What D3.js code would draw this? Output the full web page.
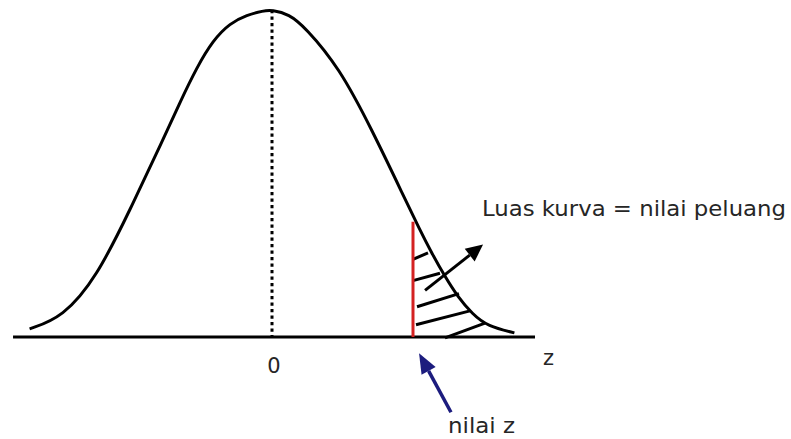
<!DOCTYPE html>
<html><head><meta charset="utf-8">
<script src="https://cdn.jsdelivr.net/npm/d3@7"></script>
<style>html,body{margin:0;padding:0;background:#fff;overflow:hidden}svg{display:block}</style>
</head><body>
<svg id="c" width="791" height="439"></svg>
<script>
// ---- data ----
const curveZ = [-3.0, -2.59, -2.17, -1.76, -1.35, -1.14, -0.93, -0.73, -0.52, -0.31, -0.11, 0,
                0.21, 0.41, 0.83, 1.24, 1.65, 1.81, 1.98, 2.14, 2.30, 2.48, 2.67, 3.0];
const curveD = [0.010, 0.024, 0.073, 0.155, 0.241, 0.287, 0.330, 0.363, 0.384, 0.394, 0.399, 0.400,
                0.395, 0.379, 0.330, 0.253, 0.168, 0.135, 0.102, 0.074, 0.049, 0.028, 0.013, 0.005];
const zCrit = 1.745;
const zCritTop = 0.141;
const hatchZ0 = [1.745, 1.745, 1.795, 1.782, 2.141];
const hatchD0 = [0.095, 0.069, 0.037, 0.015, -0.001];
const hatchZ1 = [1.931, 2.079, 2.314, 2.450, 2.636];
const hatchD1 = [0.103, 0.078, 0.053, 0.032, 0.017];
const tickLabels = ["0"];
const tickValues = [0];
const axisLabel = "z";
const areaLabel = "Luas kurva = nilai peluang";
const zLabel = "nilai z";

// ---- layout ----
const svg = d3.select("#c");
const x = d3.scaleLinear().domain([-3, 3]).range([29.6, 514.4]);
const y = d3.scaleLinear().domain([0, 0.4]).range([337, 10]);
const font = "DejaVu Sans, Verdana, sans-serif";
const textCol = "#262626";

// baseline
svg.append("line").attr("x1", x(-3.205)).attr("x2", x(3.255))
  .attr("y1", y(0)).attr("y2", y(0)).attr("stroke", "#000").attr("stroke-width", 3);

// dotted centre line
svg.append("line").attr("x1", x(0)).attr("x2", x(0)).attr("y1", y(0.4)).attr("y2", y(0))
  .attr("stroke", "#000").attr("stroke-width", 3).attr("stroke-dasharray", "3.3,3.2");

// curve
const pts = curveZ.map((z, i) => [z, curveD[i]]);
svg.append("path").datum(pts)
  .attr("d", d3.line().x(d => x(d[0])).y(d => y(d[1])).curve(d3.curveBasis))
  .attr("fill", "none").attr("stroke", "#000").attr("stroke-width", 3);

// hatch
svg.selectAll("line.hatch").data(hatchZ0.map((z, i) => i)).join("line")
  .attr("class", "hatch")
  .attr("x1", i => x(hatchZ0[i])).attr("y1", i => y(hatchD0[i]))
  .attr("x2", i => x(hatchZ1[i])).attr("y2", i => y(hatchD1[i]))
  .attr("stroke", "#000").attr("stroke-width", 3);

// red critical line
svg.append("line").attr("x1", x(zCrit)).attr("x2", x(zCrit))
  .attr("y1", y(zCritTop)).attr("y2", y(0))
  .attr("stroke", "#d42222").attr("stroke-width", 3);

// arrows
function arrow(z0, d0, z1, d1, col, w, hl, hw) {
  const X0 = x(z0), Y0 = y(d0), X1 = x(z1), Y1 = y(d1);
  const a = Math.atan2(Y1 - Y0, X1 - X0);
  const bx = X1 - hl * Math.cos(a), by = Y1 - hl * Math.sin(a);
  svg.append("line").attr("x1", X0).attr("y1", Y0).attr("x2", bx).attr("y2", by)
    .attr("stroke", col).attr("stroke-width", w);
  const px = -Math.sin(a) * hw / 2, py = Math.cos(a) * hw / 2;
  svg.append("path").attr("d", `M${X1},${Y1}L${bx + px},${by + py}L${bx - px},${by - py}Z`)
    .attr("fill", col);
}
arrow(1.894, 0.057, 2.612, 0.113, "#000", 3, 17, 16);
arrow(2.215, -0.092, 1.82, -0.020, "#1c1c7e", 3.5, 20, 16);

// texts
svg.selectAll("text.tick").data(tickValues).join("text").attr("class", "tick")
  .attr("x", d => x(d) + 2).attr("y", y(0) + 36).attr("text-anchor", "middle")
  .attr("font-family", font).attr("font-size", 21).attr("fill", textCol)
  .text((d, i) => tickLabels[i]);
svg.append("text").attr("x", x(3.354)).attr("y", y(0) + 28)
  .attr("font-family", font).attr("font-size", 21).attr("fill", textCol).text(axisLabel);
svg.append("text").attr("x", 482).attr("y", 216).attr("textLength", 304).attr("lengthAdjust", "spacingAndGlyphs")
  .attr("font-family", font).attr("font-size", 21).attr("fill", textCol).text(areaLabel);
svg.append("text").attr("x", 448).attr("y", 433).attr("textLength", 67).attr("lengthAdjust", "spacingAndGlyphs")
  .attr("font-family", font).attr("font-size", 21).attr("fill", textCol).text(zLabel);
</script>
</body></html>
